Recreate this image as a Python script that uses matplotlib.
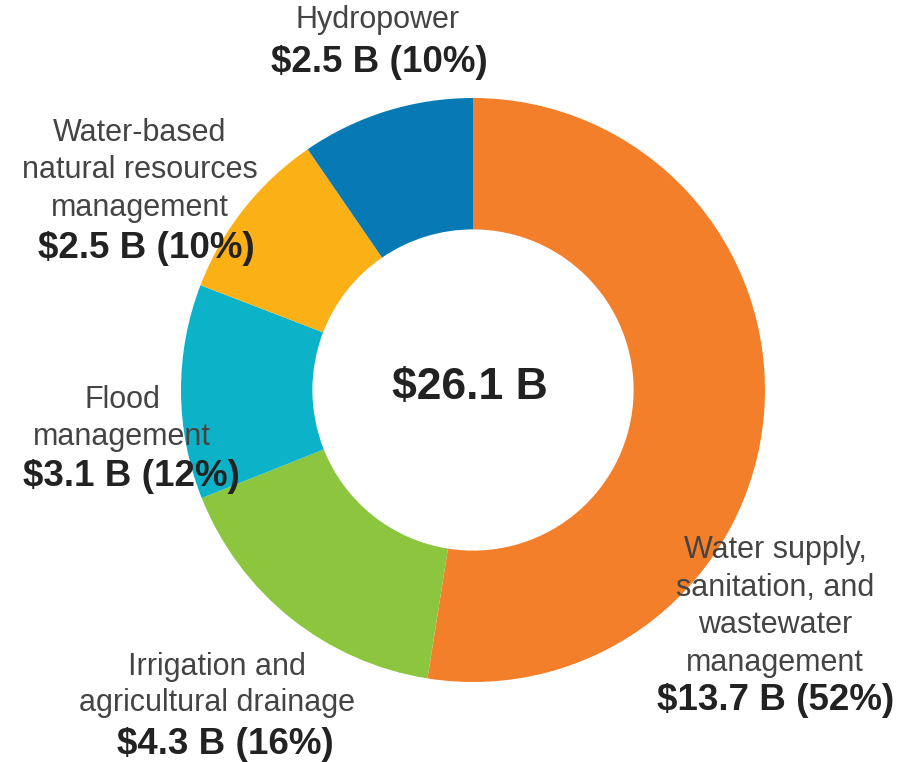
import matplotlib
matplotlib.use("Agg")
import matplotlib.pyplot as plt

categories = ["Water supply,\nsanitation, and\nwastewater\nmanagement",
              "Irrigation and\nagricultural drainage",
              "Flood\nmanagement",
              "Water-based\nnatural resources\nmanagement",
              "Hydropower"]
values = [13.7, 4.3, 3.1, 2.5, 2.5]
value_labels = ["$13.7 B (52%)", "$4.3 B (16%)", "$3.1 B (12%)", "$2.5 B (10%)", "$2.5 B (10%)"]
total_label = "$26.1 B"
colors = ["#F47F2A", "#8CC63F", "#0CB2C8", "#FBB116", "#0779B5"]

W, H = 911, 762
fig = plt.figure(figsize=(W / 100, H / 100), dpi=100)
ax = fig.add_axes([0, 0, 1, 1])

cx, cy, R = 473, H - 390, 292
ax.pie(values, colors=colors, startangle=90, counterclock=False,
       center=(cx, cy), radius=R,
       wedgeprops=dict(width=R * 0.45, linewidth=0))
ax.set_xlim(0, W)
ax.set_ylim(0, H)
ax.set_aspect("equal")
ax.axis("off")

font = "Liberation Sans"
name_color = "#444444"
val_color = "#222222"
# (name center x, name top-line y in px, line spacing, value x, value y)
label_pos = [
    (775, 550, 37.5, 776, 700),
    (217, 667, 36.5, 225, 744),
    (122, 400, 37, 131, 477),
    (140, 133, 37.5, 146, 248),
    (378, 20, 37, 379, 62),
]
for name, vl, (nx, ny, sp, vx, vy) in zip(categories, value_labels, label_pos):
    for i, line in enumerate(name.split("\n")):
        ax.text(nx, H - (ny + i * sp), line, ha="center", va="center",
                fontsize=22, family=font, color=name_color)
    ax.text(vx, H - vy, vl, ha="center", va="center", fontsize=26.5,
            family=font, weight="bold", color=val_color)

ax.text(cx - 3, H - 388, total_label, ha="center", va="center", fontsize=32,
        family=font, weight="bold", color=val_color)

fig.savefig("out.png", dpi=100)
